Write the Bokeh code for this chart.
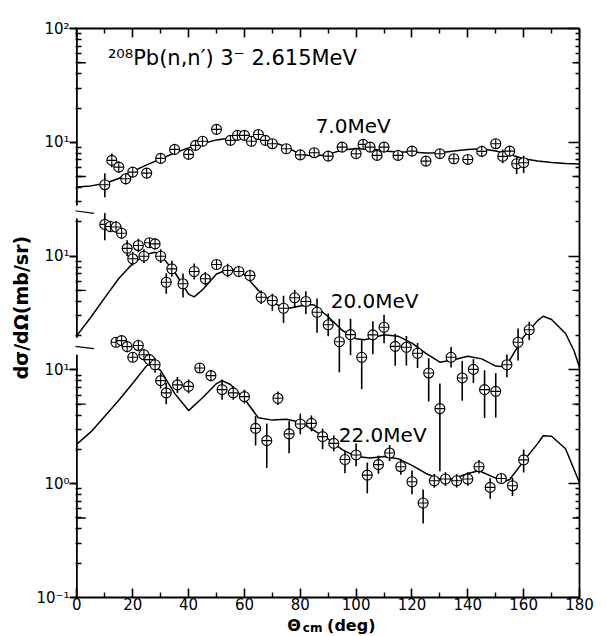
import math
from bokeh.plotting import figure
from bokeh.layouts import row, column
from bokeh.models import Range1d, FixedTicker, LogAxis, LinearAxis, Label, Arrow
from bokeh.embed import file_html
from bokeh.resources import INLINE

# ---------------- data (mb/sr) ----------------
# 7.0 MeV (plotted x100)
ang_7 = [10, 12.5, 15, 17.5, 20, 25, 30, 35, 40, 42.5, 45, 50, 55, 57.5, 60, 62.5, 65, 67.5, 70, 75,
         80, 85, 90, 95, 100, 102.5, 105, 107.5, 110, 115, 120, 125, 130, 135, 140, 145, 150, 152.5,
         155, 157.5, 160]
val_7 = [4.24, 6.93, 6.05, 4.78, 5.47, 5.36, 7.22, 8.66, 7.83, 9.39, 10.2, 13.0, 10.4, 11.5, 11.5,
         10.2, 11.7, 10.4, 9.72, 8.78, 7.75, 8.10, 7.56, 9.07, 7.94, 9.58, 9.07, 7.67, 9.07, 7.67,
         8.37, 6.83, 7.94, 7.17, 7.07, 8.32, 9.72, 7.52, 8.37, 6.48, 6.62]
eup_7 = [0.10, 0.06, 0.05, 0.05, 0.04, 0.04, 0.04, 0.04, 0.04, 0.04, 0.04, 0.04, 0.04, 0.04, 0.04,
         0.04, 0.04, 0.04, 0.04, 0.04, 0.04, 0.04, 0.04, 0.04, 0.04, 0.04, 0.04, 0.04, 0.04, 0.04,
         0.04, 0.04, 0.04, 0.04, 0.04, 0.05, 0.04, 0.06, 0.04, 0.06, 0.06]
edn_7 = [0.11, 0.06, 0.05, 0.05, 0.04, 0.04, 0.04, 0.04, 0.04, 0.04, 0.04, 0.04, 0.04, 0.04, 0.04,
         0.04, 0.04, 0.04, 0.04, 0.04, 0.04, 0.04, 0.04, 0.04, 0.04, 0.04, 0.04, 0.04, 0.04, 0.04,
         0.04, 0.04, 0.04, 0.04, 0.04, 0.05, 0.04, 0.06, 0.04, 0.09, 0.09]
cang_7 = [0, 5, 10, 15, 20, 25, 30, 35, 40, 45, 50, 55, 60, 65, 70, 75, 80, 85, 90, 95, 100, 105,
          110, 115, 120, 125, 130, 135, 140, 145, 150, 155, 160, 165, 170, 175, 180]
cval_7 = [4.04, 4.14, 4.35, 4.81, 5.55, 6.33, 7.14, 8.07, 8.93, 9.78, 10.5, 10.9, 11.0, 10.7, 10.1,
          9.11, 7.83, 7.59, 7.83, 8.57, 8.84, 8.79, 8.40, 8.20, 8.20, 8.04, 8.10, 8.37, 8.66, 8.79,
          8.40, 7.83, 7.17, 6.86, 6.66, 6.52, 6.46]

# 20.0 MeV (plotted x10)
ang_20 = [10, 12, 14, 16, 18, 20, 22, 24, 26, 28, 30, 32, 34, 38, 42, 46, 50, 54, 58, 62, 66, 70, 74,
          78, 82, 86, 90, 94, 98, 102, 106, 110, 114, 118, 122, 126, 130, 134, 138, 142, 146, 150,
          154, 158, 162]
val_20 = [19.0, 18.2, 18.0, 15.9, 11.7, 9.47, 12.4, 9.98, 13.1, 12.8, 9.98, 5.89, 7.73, 5.71, 7.32,
          6.32, 8.44, 7.47, 7.32, 6.75, 4.35, 4.07, 3.48, 4.30, 3.99, 3.21, 2.49, 1.77, 2.04, 1.29,
          2.03, 2.37, 1.61, 1.58, 1.40, 0.94, 0.457, 1.29, 0.85, 1.01, 0.671, 0.648, 1.11, 1.75, 2.25]
eup_20 = [0.10, 0.05, 0.05, 0.05, 0.07, 0.06, 0.06, 0.06, 0.04, 0.05, 0.06, 0.08, 0.07, 0.09, 0.07,
          0.06, 0.04, 0.06, 0.05, 0.05, 0.06, 0.06, 0.11, 0.07, 0.09, 0.12, 0.10, 0.20, 0.14, 0.16,
          0.12, 0.11, 0.11, 0.10, 0.09, 0.13, 0.22, 0.09, 0.15, 0.09, 0.17, 0.16, 0.09, 0.12, 0.07]
edn_20 = [0.14, 0.05, 0.05, 0.05, 0.07, 0.06, 0.06, 0.06, 0.04, 0.05, 0.06, 0.10, 0.07, 0.12, 0.07,
          0.06, 0.04, 0.06, 0.05, 0.05, 0.06, 0.09, 0.13, 0.09, 0.11, 0.18, 0.10, 0.27, 0.18, 0.28,
          0.17, 0.14, 0.17, 0.16, 0.13, 0.25, 0.55, 0.09, 0.20, 0.12, 0.25, 0.23, 0.11, 0.16, 0.09]
cang_20 = [0, 5, 10, 15, 20, 25, 28, 30, 35, 40, 42, 45, 50, 55, 60, 65, 70, 75, 80, 83, 85, 90, 95,
           100, 103, 105, 110, 115, 120, 125, 130, 135, 140, 145, 150, 152, 155, 160, 165, 167, 170,
           175, 178, 180]
cval_20 = [2.00, 2.90, 4.32, 6.35, 8.61, 10.4, 10.8, 10.2, 7.25, 4.63, 4.38, 5.06, 6.96, 7.78, 6.89,
           4.98, 3.91, 3.44, 3.64, 3.75, 3.72, 2.93, 2.23, 1.88, 1.84, 1.89, 2.04, 1.98, 1.72, 1.40,
           1.17, 1.23, 1.32, 1.25, 1.08, 1.07, 1.22, 1.96, 2.71, 2.96, 2.77, 2.09, 1.48, 1.05]

# 22.0 MeV (plotted x1)
ang_22 = [14, 16, 18, 20, 22, 24, 26, 28, 30, 32, 36, 40, 44, 48, 52, 56, 60, 64, 68, 72, 76, 80, 84,
          88, 92, 96, 100, 104, 108, 112, 116, 120, 124, 128, 132, 136, 140, 144, 148, 152, 156, 160]
val_22 = [17.5, 18.1, 16.0, 12.9, 16.4, 13.6, 12.3, 11.1, 8.05, 6.28, 7.38, 7.17, 10.4, 8.91, 6.71,
          6.28, 5.82, 3.06, 2.39, 5.63, 2.74, 3.35, 3.39, 2.59, 2.26, 1.63, 1.79, 1.19, 1.47, 1.86,
          1.41, 1.04, 0.676, 1.06, 1.10, 1.06, 1.10, 1.41, 0.928, 1.11, 0.96, 1.62]
eup_22 = [0.04, 0.04, 0.05, 0.04, 0.05, 0.05, 0.05, 0.06, 0.07, 0.09, 0.07, 0.06, 0.04, 0.05, 0.09,
          0.06, 0.06, 0.11, 0.15, 0.06, 0.11, 0.09, 0.07, 0.07, 0.07, 0.08, 0.10, 0.11, 0.08, 0.07,
          0.07, 0.10, 0.12, 0.06, 0.06, 0.06, 0.06, 0.06, 0.08, 0.04, 0.07, 0.09]
edn_22 = [0.04, 0.04, 0.05, 0.04, 0.05, 0.05, 0.05, 0.07, 0.07, 0.10, 0.07, 0.06, 0.04, 0.05, 0.09,
          0.06, 0.06, 0.15, 0.24, 0.06, 0.17, 0.09, 0.07, 0.11, 0.07, 0.12, 0.10, 0.16, 0.08, 0.07,
          0.07, 0.11, 0.18, 0.06, 0.06, 0.06, 0.06, 0.06, 0.10, 0.04, 0.09, 0.11]
cang_22 = [0, 5, 10, 15, 20, 25, 27, 30, 35, 40, 45, 50, 52, 55, 60, 65, 70, 75, 80, 85, 90, 95, 100,
           105, 110, 115, 120, 125, 130, 133, 135, 140, 144, 150, 152, 155, 160, 165, 167, 170, 175,
           180]
cval_22 = [2.23, 2.85, 3.92, 5.41, 7.62, 10.9, 11.3, 9.86, 6.22, 4.39, 5.70, 7.58, 8.05, 7.45, 5.55,
           3.79, 3.62, 3.69, 3.46, 2.93, 2.46, 1.99, 1.73, 1.68, 1.73, 1.66, 1.45, 1.23, 1.10, 1.08,
           1.11, 1.23, 1.30, 1.12, 1.03, 1.09, 1.58, 2.25, 2.64, 2.61, 2.03, 1.02]

series = [
    ("7.0MeV", 100, ang_7, val_7, eup_7, edn_7, cang_7, cval_7),
    ("20.0MeV", 10, ang_20, val_20, eup_20, edn_20, cang_20, cval_20),
    ("22.0MeV", 1, ang_22, val_22, eup_22, edn_22, cang_22, cval_22),
]

x_ticks = list(range(0, 181, 20))
x_minor = list(range(10, 180, 20))
y_decades = [0.1, 1, 10, 100, 1000, 10000]
y_labels = {0.1: "10⁻¹", 1: "10⁰", 10: "10¹", 100: "10¹", 1000: "10¹", 10000: "10²"}
axis_breaks = [(13.6, 19.2), (214, 279)]   # gaps of the broken left axis (plot units)

TICK_FONT = "DejaVu Sans"
TEXT_FONT = "DejaVu Sans"
STRIP_W = 32          # width of the y-title strip
LEFT_B, RIGHT_B = 43, 24

# ---------------- main figure ----------------
p = figure(width=571, height=615, x_range=Range1d(-0.5, 180), y_range=Range1d(0.1, 10000),
           y_axis_type="log", output_backend="svg", toolbar_location=None,
           min_border_left=LEFT_B, min_border_right=RIGHT_B, min_border_top=28,
           min_border_bottom=18)
p.grid.visible = False
p.outline_line_color = None
p.background_fill_color = "white"

minor_y = [m * d for d in y_decades[:-1] for m in range(2, 10)]
fives = [5 * d for d in y_decades[:-1]]

# left axis
ya = p.yaxis[0]
ya.ticker = FixedTicker(ticks=y_decades, minor_ticks=minor_y)
ya.major_label_overrides = y_labels
ya.axis_line_color = None
ya.major_tick_out = 6
ya.major_tick_in = 2
ya.minor_tick_out = 0
ya.minor_tick_in = 6
ya.major_tick_line_width = 1.8
ya.minor_tick_line_width = 1.4
ya.major_label_standoff = 0
ya.major_label_text_font = TICK_FONT
ya.major_label_text_font_size = "15px"
ya.major_label_text_color = "black"

# right axis (ticks only)
ra = LogAxis(ticker=FixedTicker(ticks=y_decades, minor_ticks=minor_y),
             major_label_overrides={t: "" for t in y_decades}, major_label_standoff=0,
             major_tick_in=11, major_tick_out=0,
             minor_tick_in=4, minor_tick_out=0, axis_line_width=1.8,
             major_tick_line_width=1.6, minor_tick_line_width=1.4)
p.add_layout(ra, "right")

# bottom axis
xa = p.xaxis[0]
xa.ticker = FixedTicker(ticks=x_ticks, minor_ticks=x_minor)
xa.major_tick_in = 9
xa.major_tick_out = 0
xa.minor_tick_in = 5
xa.minor_tick_out = 0
xa.axis_line_width = 1.8
xa.major_tick_line_width = 1.6
xa.minor_tick_line_width = 1.4
xa.major_label_standoff = 0
xa.major_label_text_font = TICK_FONT
xa.major_label_text_font_size = "15px"
xa.major_label_text_color = "black"

# top axis (ticks only)
ta = LinearAxis(ticker=FixedTicker(ticks=x_ticks, minor_ticks=x_minor),
                major_label_overrides={t: "" for t in x_ticks}, major_label_standoff=0,
                major_tick_in=9, major_tick_out=0,
                minor_tick_in=5, minor_tick_out=0, axis_line_width=1.8,
                major_tick_line_width=1.6, minor_tick_line_width=1.4)
p.add_layout(ta, "above")

# broken left spine
lows = [0.1] + [b[1] for b in axis_breaks]
highs = [b[0] for b in axis_breaks] + [10000]
p.segment(x0=[0] * len(lows), y0=lows, x1=[0] * len(lows), y1=highs,
          line_color="black", line_width=1.8)
# medium ticks at 5x positions
p.segment(x0=[0] * len(fives), y0=fives, x1=[3.2] * len(fives), y1=fives,
          line_color="black", line_width=1.4)
p.segment(x0=[177.5] * len(fives), y0=fives, x1=[180] * len(fives), y1=fives,
          line_color="black", line_width=1.4)

# break slashes
for (ys, ye) in [(262, 237), (16.7, 15.4)]:
    p.add_layout(Arrow(end=None, x_start=-6.4, y_start=ys, x_end=6.1, y_end=ye,
                       line_color="black", line_width=1.2))

# data
for name, k, ang, val, eu, ed, cang, cval in series:
    y = [v * k for v in val]
    hi = [v * 10 ** u for v, u in zip(y, eu)]
    lo = [v / 10 ** d for v, d in zip(y, ed)]
    p.line(cang, [v * k for v in cval], line_color="black", line_width=1.5)
    p.segment(x0=ang, y0=lo, x1=ang, y1=hi, line_color="black", line_width=1.6)
    p.scatter(ang, y, marker="circle_cross", size=10, fill_color="white",
              line_color="black", line_width=1.1)

def lab(fig, x, y, text, size, **kw):
    kw.setdefault("text_baseline", "middle")
    fig.add_layout(Label(x=x, y=y, text=text, text_font=TEXT_FONT, text_font_size=size,
                         text_color="black", **kw))

lab(p, 11.1, 5508, "²⁰⁸Pb(n,n′) 3⁻ 2.615MeV", "21px")
lab(p, 85.5, 1377, "7.0MeV", "20px")
lab(p, 90.9, 40.6, "20.0MeV", "20px")
lab(p, 93.8, 2.69, "22.0MeV", "20px")

# ---------------- strip for the y-axis title ----------------
ys_fig = figure(width=STRIP_W, height=636, x_range=Range1d(0, STRIP_W), y_range=Range1d(0, 636),
                output_backend="svg", toolbar_location=None, min_border=0,
                x_axis_location=None, y_axis_location=None)
ys_fig.grid.visible = False
ys_fig.outline_line_color = None
lab(ys_fig, 20.5, 329, "dσ/dΩ(mb/sr)", "19px", angle=math.pi / 2, text_font_style="bold",
    text_align="center")

# ---------------- strip for the x-axis title ----------------
xs_fig = figure(width=571, height=21, x_range=p.x_range, y_range=Range1d(0, 21),
                output_backend="svg", toolbar_location=None, min_border=0,
                min_border_left=LEFT_B, min_border_right=RIGHT_B,
                x_axis_location=None, y_axis_location=None)
xs_fig.grid.visible = False
xs_fig.outline_line_color = None
lab(xs_fig, 75.3, 11.5, "Θ", "16px", text_font_style="bold")
lab(xs_fig, 80.9, 8.3, "cm", "12px", text_font_style="bold")
lab(xs_fig, 89.6, 11.5, "(deg)", "16px", text_font_style="bold")

root = row(ys_fig, column(p, xs_fig))
open("out.html", "w").write(file_html(root, INLINE))
